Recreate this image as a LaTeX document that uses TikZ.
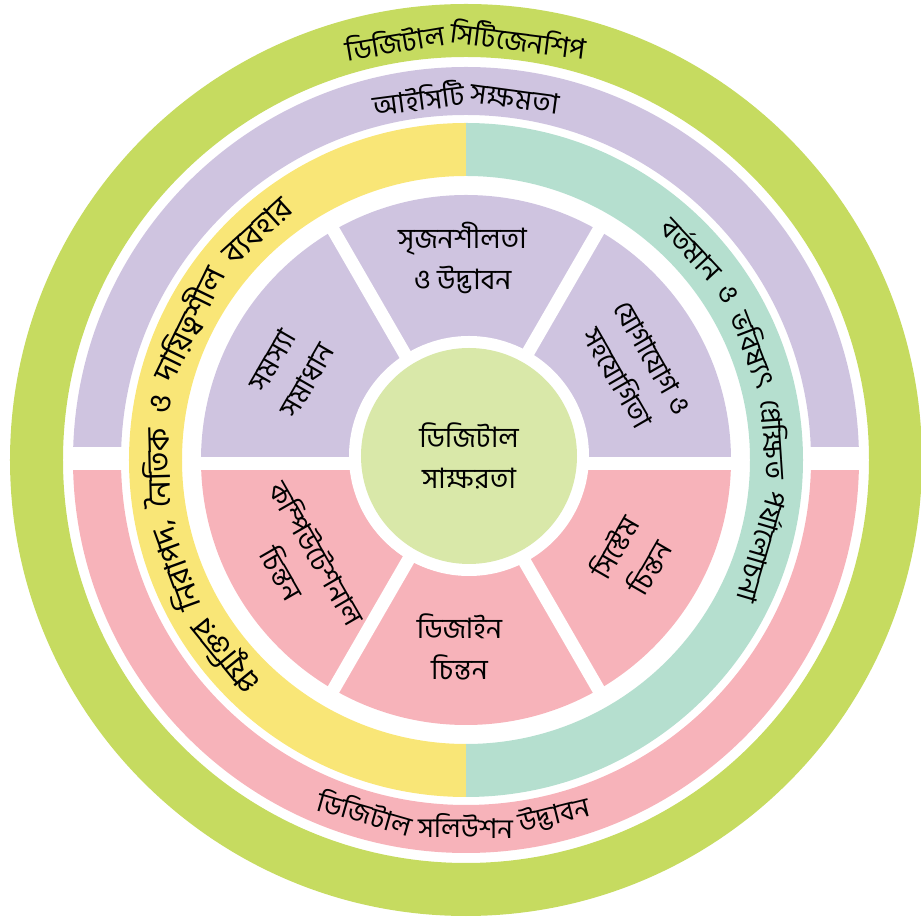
\documentclass[tikz,border=0pt]{standalone}
\usepackage{fontspec}
\newfontfamily\bnfont[Script=Bengali]{Hind Siliguri}
\definecolor{citizengreen}{HTML}{C6DB60}
\definecolor{ictpurple}{HTML}{CFC4E0}
\definecolor{solutionpink}{HTML}{F7B3BA}
\definecolor{ethicsyellow}{HTML}{F9E677}
\definecolor{futureteal}{HTML}{B5DFCF}
\definecolor{literacygreen}{HTML}{D9E8A9}
\newcommand\ringfont{\bnfont\fontsize{16}{18}\selectfont}
\newcommand\bncomma{,}
\tikzset{
  ringword/.style={font=\ringfont, inner sep=0pt, anchor=center},
  segtext/.style={font=\bnfont\fontsize{16}{23}\selectfont, align=center, inner sep=0pt},
  gapline/.style={white, line width=0.26cm},
}
\newcommand\band[5]{\fill[#1] (#2:#5) arc[start angle=#2, end angle=#3, radius=#5] -- (#3:#4) arc[start angle=#3, end angle=#2, radius=#4] -- cycle;}
\newsavebox\wordbox
\newcommand\savewidths[1]{%
  \sbox\wordbox{\ringfont\ }\xdef\spacept{\the\wd\wordbox}%
  \foreach \w in {#1}{\sbox\wordbox{\ringfont\w}\expandafter\xdef\csname ww@\w\endcsname{\the\wd\wordbox}}}
\AtBeginDocument{\savewidths{ডিজিটাল,সিটিজেনশিপ,আইসিটি,সক্ষমতা,সলিউশন,উদ্ভাবন,প্রযুক্তির,নিরাপদ\bncomma,নৈতিক,ও,দায়িত্বশীল,ব্যবহার,বর্তমান,ভবিষ্যৎ,প্রেক্ষিত,পর্যালোচনা}}
\newcommand\ringtotal[3]{%
  \pgfmathsetmacro\gappt{#1*#2*\spacept}\global\let\gappt\gappt
  \xdef\totalpt{-\gappt}%
  \foreach \w in {#3}{\pgfmathsetmacro\sumpt{\totalpt+#1*\csname ww@\w\endcsname+\gappt}\global\let\totalpt\sumpt}}
\newcommand\cwtext[6]{%
  \pgfmathsetmacro\ringr{#3*28.45274}%
  \ringtotal{#4}{#5}{#6}%
  \pgfmathsetmacro\ringang{#2+0.5*\totalpt/\ringr*57.29578}%
  \global\let\ringang\ringang
  \foreach \w [count=\i] in {#6}{%
    \pgfmathsetmacro\wordpt{#4*\csname ww@\w\endcsname}%
    \pgfmathsetmacro\wordang{\ringang-0.5*\wordpt/\ringr*57.29578}%
    \pgfmathsetmacro\wordtilt{\wordang-90}%
    \node[ringword, rotate=\wordtilt, scale=#4] (#1-\i) at (\wordang:#3) {\w};
    \pgfmathsetmacro\nextang{\ringang-(\wordpt+\gappt)/\ringr*57.29578}%
    \global\let\ringang\nextang
  }%
}
\newcommand\ccwtext[6]{%
  \pgfmathsetmacro\ringr{#3*28.45274}%
  \ringtotal{#4}{#5}{#6}%
  \pgfmathsetmacro\ringang{#2-0.5*\totalpt/\ringr*57.29578}%
  \global\let\ringang\ringang
  \foreach \w [count=\i] in {#6}{%
    \pgfmathsetmacro\wordpt{#4*\csname ww@\w\endcsname}%
    \pgfmathsetmacro\wordang{\ringang+0.5*\wordpt/\ringr*57.29578}%
    \pgfmathsetmacro\wordtilt{\wordang+90}%
    \node[ringword, rotate=\wordtilt, scale=#4] (#1-\i) at (\wordang:#3) {\w};
    \pgfmathsetmacro\nextang{\ringang+(\wordpt+\gappt)/\ringr*57.29578}%
    \global\let\ringang\nextang
  }%
}
\begin{document}
\begin{tikzpicture}
\useasboundingbox (-9.32,-9.2) rectangle (9.1,9.2);
\fill[citizengreen, even odd rule] (0,0) circle (9.12) (0,0) circle (8.06);
\band{ictpurple}{0}{180}{6.9}{7.86}
\band{solutionpink}{180}{360}{6.9}{7.86}
\fill[white] (-7.95,-0.2) rectangle (7.95,0.26);
\band{ethicsyellow}{90}{270}{5.68}{6.74}
\band{futureteal}{-90}{90}{5.68}{6.74}
\band{ictpurple}{0}{180}{2.3}{5.3}
\band{solutionpink}{180}{360}{2.3}{5.3}
\fill[white] (-5.4,-0.2) rectangle (5.4,0.06);
\foreach \a in {60,120,240,300}
  \draw[gapline] (0,0) -- (\a:5.4);
\coordinate (hub) at (0.06,0.08);
\fill[white] (hub) circle (2.4);
\fill[literacygreen] (hub) circle (2.16);

\cwtext{citizen}{90}{8.5}{1}{1}{ডিজিটাল,সিটিজেনশিপ}
\cwtext{ict}{90}{7.3}{1}{1}{আইসিটি,সক্ষমতা}
\ccwtext{solution}{268}{7.32}{0.97}{1}{ডিজিটাল,সলিউশন,উদ্ভাবন}
\cwtext{ethics}{176}{6.2}{1.12}{2}{প্রযুক্তির,নিরাপদ\bncomma,নৈতিক,ও,দায়িত্বশীল,ব্যবহার}
\cwtext{future}{11.5}{6.2}{1}{2}{বর্তমান,ও,ভবিষ্যৎ,প্রেক্ষিত,পর্যালোচনা}

\node[segtext] (literacy) at (hub) {ডিজিটাল\\সাক্ষরতা};
\node[segtext] (creativity) at (91:4.04) {সৃজনশীলতা\\ও উদ্ভাবন};
\node[segtext, rotate=60] (problem) at (153:3.96) {সমস্যা\\সমাধান};
\node[segtext, rotate=-60] (communication) at (28.6:3.85) {যোগাযোগ ও\\সহযোগিতা};
\node[segtext, rotate=-60] (computational) at (211.8:3.9) {কম্পিউটেশনাল\\চিন্তন};
\node[segtext] (design) at (268:3.74) {ডিজাইন\\চিন্তন};
\node[segtext, rotate=60] (systems) at (-30.4:3.83) {সিস্টেম\\চিন্তন};
\end{tikzpicture}
\end{document}
